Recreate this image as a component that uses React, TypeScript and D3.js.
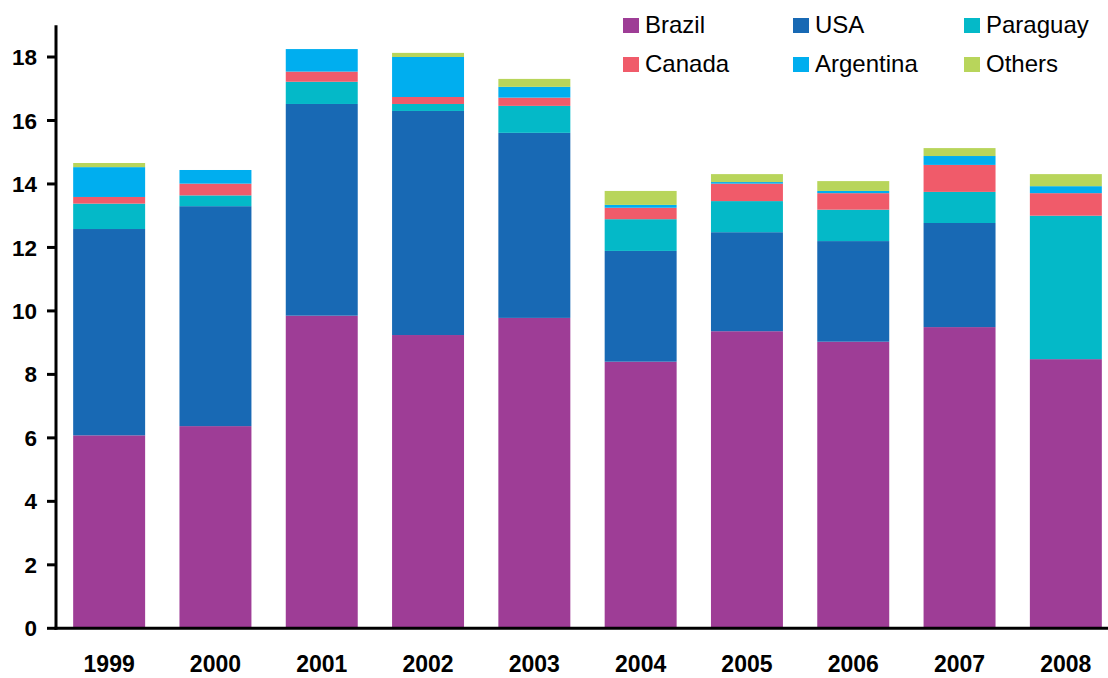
import React from "react";
import * as d3 from "d3";

const years = ["1999", "2000", "2001", "2002", "2003", "2004", "2005", "2006", "2007", "2008"];
const seriesNames = ["Brazil", "USA", "Paraguay", "Canada", "Argentina", "Others"];
const brazil = [6.08, 6.37, 9.85, 9.24, 9.78, 8.4, 9.36, 9.03, 9.49, 8.48];
const usa = [6.5, 6.93, 6.67, 7.06, 5.83, 3.49, 3.12, 3.17, 3.28, 0];
const paraguay = [0.8, 0.34, 0.7, 0.22, 0.85, 1.0, 0.98, 0.99, 0.98, 4.52];
const canada = [0.21, 0.37, 0.32, 0.22, 0.26, 0.36, 0.55, 0.52, 0.85, 0.71];
const argentina = [0.94, 0.43, 0.71, 1.26, 0.34, 0.09, 0.05, 0.07, 0.28, 0.22];
const others = [0.13, 0, 0, 0.13, 0.25, 0.44, 0.25, 0.31, 0.25, 0.38];
const yTicks = [0, 2, 4, 6, 8, 10, 12, 14, 16, 18];
const colors = ["#9E3D96", "#1869B4", "#04B9C8", "#F05B6A", "#00AEEF", "#B8D55B"];

const W = 1108;
const H = 678;
const FONT = "'Liberation Sans', Arial, Helvetica, sans-serif";

export default function App() {
  const values = [brazil, usa, paraguay, canada, argentina, others];
  const rows = years.map((y, i) => {
    const r: Record<string, number | string> = { year: y };
    seriesNames.forEach((s, k) => (r[s] = values[k][i]));
    return r;
  });
  const stack = d3.stack<any>().keys(seriesNames)(rows as any);

  const x = d3.scaleBand<string>().domain(years).range([56, 1119]).paddingInner(0.323).paddingOuter(0.1615);
  const y = d3.scaleLinear().domain([0, 18]).range([628.3, 57]);
  const axisX = 56;

  const legendCols = [623, 793, 964];
  const legendRows = [18, 57];

  return (
    <svg width={W} height={H} style={{ position: "absolute", left: 0, top: 0, background: "#fff" }} fontFamily={FONT}>
      {stack.map((layer, k) => (
        <g key={seriesNames[k]} fill={colors[k]}>
          {layer.map((d, i) => {
            const h = y(d[0]) - y(d[1]);
            if (h <= 0) return null;
            return <rect key={i} x={x(years[i])} width={x.bandwidth()} y={y(d[1])} height={h} />;
          })}
        </g>
      ))}
      {/* y axis */}
      <line x1={axisX} x2={axisX} y1={y(19)} y2={y(0) + 1.5} stroke="#000" strokeWidth={3} />
      {yTicks.map((t) => (
        <g key={t}>
          <line x1={47} x2={axisX} y1={y(t)} y2={y(t)} stroke="#000" strokeWidth={3} />
          <text x={37} y={y(t)} dy="0.36em" textAnchor="end" fontSize={22.5} fontWeight="bold" fill="#000">
            {t}
          </text>
        </g>
      ))}
      {/* x axis */}
      <line x1={axisX - 1.5} x2={W} y1={y(0)} y2={y(0)} stroke="#000" strokeWidth={3} />
      {years.map((yr) => (
        <text key={yr} x={(x(yr) as number) + x.bandwidth() / 2} y={672} textAnchor="middle" fontSize={23} fontWeight="bold" fill="#000">
          {yr}
        </text>
      ))}
      {/* legend */}
      {seriesNames.map((s, k) => {
        const col = k % 3;
        const row = Math.floor(k / 3);
        const lx = legendCols[col];
        const ly = legendRows[row];
        return (
          <g key={s}>
            <rect x={lx} y={ly} width={16} height={15} fill={colors[k]} />
            <text x={lx + 22} y={ly + 15} fontSize={24} fill="#000">
              {s}
            </text>
          </g>
        );
      })}
    </svg>
  );
}
